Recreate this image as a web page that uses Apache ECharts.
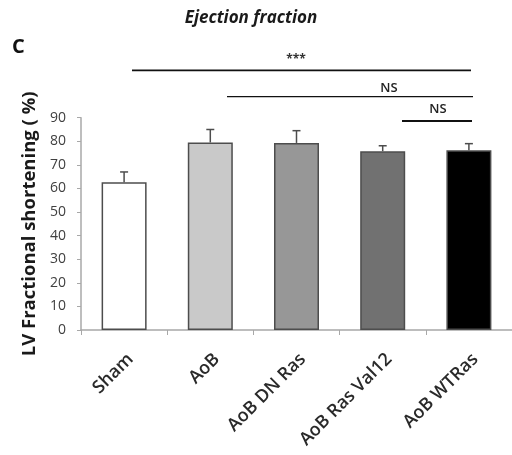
<!DOCTYPE html>
<html>
<head>
<meta charset="utf-8">
<script src="https://cdn.jsdelivr.net/npm/echarts@6/dist/echarts.min.js"></script>
<style>html,body{margin:0;padding:0;background:#fff;}#c{width:512px;height:455px;}</style>
</head>
<body>
<div id="c"></div>
<script>
var categories = ['Sham', 'AoB', 'AoB DN Ras', 'AoB Ras Val12', 'AoB WTRas'];
var values = [62.6, 79.5, 79.3, 75.8, 76.2];
var errors = [4.4, 5.5, 5.2, 2.3, 2.8];
var barColors = ['#ffffff', '#c9c9c9', '#979797', '#717171', '#000000'];
var yTicks = [0, 10, 20, 30, 40, 50, 60, 70, 80, 90];
var sigLabels = ['***', 'NS', 'NS'];

var FONT = '"Open Sans", "DejaVu Sans", sans-serif';
var chart = echarts.init(document.getElementById('c'), null, {renderer: 'canvas'});

var option = {
  animation: false,
  backgroundColor: '#ffffff',
  graphic: [
    {type: 'text', x: 251, y: 18, style: {text: 'Ejection fraction', font: 'italic bold 17px ' + FONT, fill: '#1a1a1a', align: 'center', verticalAlign: 'middle'}},
    {type: 'text', left: 12, top: 37, style: {text: 'C', font: 'bold 20px ' + FONT, fill: '#111'}},
    {type: 'line', shape: {x1: 132, y1: 70.3, x2: 471, y2: 70.3}, style: {stroke: '#111', lineWidth: 1.8}},
    {type: 'text', x: 296, y: 60, style: {text: sigLabels[0], font: 'bold 12px ' + FONT, fill: '#333', align: 'center', verticalAlign: 'middle'}},
    {type: 'line', shape: {x1: 227, y1: 96.7, x2: 473, y2: 96.7}, style: {stroke: '#111', lineWidth: 1.2}},
    {type: 'text', x: 389, y: 88, style: {text: sigLabels[1], font: '600 13px ' + FONT, fill: '#222', align: 'center', verticalAlign: 'middle'}},
    {type: 'line', shape: {x1: 402, y1: 121, x2: 472, y2: 121}, style: {stroke: '#111', lineWidth: 2}},
    {type: 'text', x: 438, y: 109, style: {text: sigLabels[2], font: '600 13px ' + FONT, fill: '#222', align: 'center', verticalAlign: 'middle'}}
  ],
  grid: {left: 81, top: 117.7, bottom: 125, width: 440, containLabel: false},
  xAxis: {
    type: 'category',
    data: categories,
    axisLine: {lineStyle: {color: '#a8a8a8', width: 1.5}},
    axisTick: {show: true, alignWithLabel: false, length: 5, lineStyle: {color: '#a8a8a8', width: 1}},
    axisLabel: {rotate: 45, margin: 20, verticalAlign: 'top', fontFamily: FONT, fontSize: 18, fontWeight: 600, color: '#2a2a2a', interval: 0}
  },
  yAxis: {
    type: 'value',
    min: yTicks[0], max: yTicks[yTicks.length - 1], interval: 10,
    name: 'LV Fractional shortening ( %)',
    nameLocation: 'middle', nameGap: 40, nameRotate: 90,
    nameTextStyle: {fontFamily: FONT, fontSize: 18.5, fontWeight: 'bold', color: '#1a1a1a'},
    axisLine: {show: true, lineStyle: {color: '#a8a8a8', width: 1.5}},
    axisTick: {show: true, length: 4, lineStyle: {color: '#a8a8a8', width: 1}},
    splitLine: {show: false},
    axisLabel: {margin: 15, fontFamily: FONT, fontSize: 14, color: '#404040'}
  },
  series: [
    {
      type: 'bar',
      barWidth: 45,
      data: values.map(function (v, i) {
        return {value: v, itemStyle: {color: barColors[i], borderColor: '#4d4d4d', borderWidth: 1.5}};
      }),
      z: 2
    },
    {
      type: 'custom',
      z: 3,
      data: values.map(function (v, i) { return [i, v, v + errors[i]]; }),
      renderItem: function (params, api) {
        var base = api.coord([api.value(0), api.value(1)]);
        var top = api.coord([api.value(0), api.value(2)]);
        var hw = 4;
        var st = {stroke: '#4d4d4d', lineWidth: 1.5};
        return {
          type: 'group',
          children: [
            {type: 'line', shape: {x1: base[0], y1: base[1], x2: top[0], y2: top[1]}, style: st},
            {type: 'line', shape: {x1: top[0] - hw, y1: top[1], x2: top[0] + hw, y2: top[1]}, style: st}
          ]
        };
      }
    }
  ]
};
chart.setOption(option);
</script>
</body>
</html>
